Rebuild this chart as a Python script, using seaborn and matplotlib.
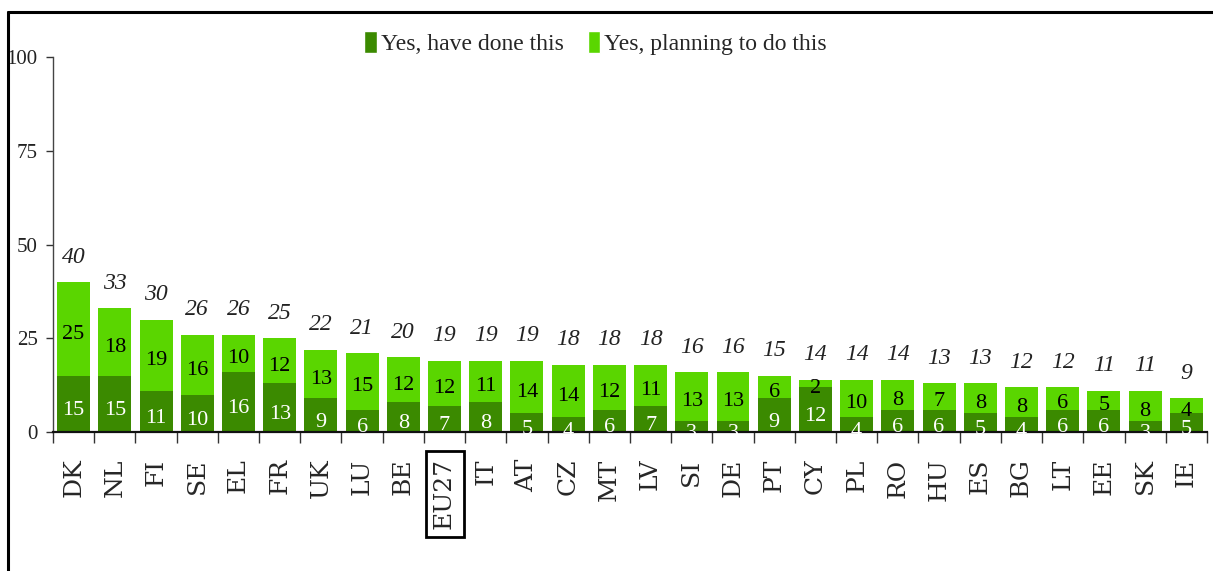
import matplotlib
matplotlib.use("Agg")
import matplotlib.pyplot as plt
import numpy as np
import pandas as pd
import seaborn as sns
from matplotlib.lines import Line2D
from matplotlib.patches import Patch
from matplotlib.ticker import FixedLocator

# ── Data ──────────────────────────────────────────────────────────────────
countries = ["DK", "NL", "FI", "SE", "EL", "FR", "UK", "LU", "BE", "EU27",
             "IT", "AT", "CZ", "MT", "LV", "SI", "DE", "PT", "CY", "PL",
             "RO", "HU", "ES", "BG", "LT", "EE", "SK", "IE"]
have_done = [15, 15, 11, 10, 16, 13, 9, 6, 8, 7,
             8, 5, 4, 6, 7, 3, 3, 9, 12, 4,
             6, 6, 5, 4, 6, 6, 3, 5]
planning = [25, 18, 19, 16, 10, 12, 13, 15, 12, 12,
            11, 14, 14, 12, 11, 13, 13, 6, 2, 10,
            8, 7, 8, 8, 6, 5, 8, 4]
totals = [40, 33, 30, 26, 26, 25, 22, 21, 20, 19,
          19, 19, 18, 18, 18, 16, 16, 15, 14, 14,
          14, 13, 13, 12, 12, 11, 11, 9]
y_ticks = [0, 25, 50, 75, 100]
series_labels = ["Yes, have done this", "Yes, planning to do this"]

DARK = "#3b8a00"
LIGHT = "#5ad600"
SERIF = "Liberation Serif"

df = pd.DataFrame({"country": countries, "done": have_done,
                   "planning": planning, "total": totals})
df["stack"] = df["done"] + df["planning"]

# ── Style ─────────────────────────────────────────────────────────────────
sns.set_style("ticks")
plt.rcParams["font.family"] = [SERIF, "DejaVu Serif"]

fig = plt.figure(figsize=(12.13, 5.71), dpi=100)
ax = fig.add_axes([0.0437, 0.2434, 0.9513, 0.6566])

# stacked bars: full height in light green, done part overlaid in dark green
sns.barplot(data=df, x="country", y="stack", color=LIGHT, saturation=1,
            width=0.8, ax=ax, order=countries, linewidth=0)
sns.barplot(data=df, x="country", y="done", color=DARK, saturation=1,
            width=0.8, ax=ax, order=countries, linewidth=0)

# segment labels sit a little below the segment centre (small ones get clipped)
for i, row in df.iterrows():
    ax.annotate(str(row["done"]), (i, row["done"] / 2), xytext=(0, -5),
                textcoords="offset points", ha="center", va="center",
                color="white", fontsize=16, annotation_clip=False).set_clip_on(True)
    ax.annotate(str(row["planning"]), (i, row["done"] + row["planning"] / 2),
                xytext=(0, -4), textcoords="offset points", ha="center",
                va="center", color="black", fontsize=16)
    ax.annotate(str(row["total"]), (i, row["stack"]), xytext=(0, 18),
                textcoords="offset points", ha="center", va="center",
                fontsize=17, style="italic", color="#222222")

ax.set_xlim(-0.5, len(countries) - 0.5)
ax.set_ylim(0, 100)
ax.set_yticks(y_ticks)
ax.set_xlabel("")
ax.set_ylabel("")

ax.tick_params(axis="x", which="major", length=0, pad=19, labelsize=18,
               labelrotation=90)
for lab in ax.get_xticklabels():
    lab.set_family("DejaVu Serif")
ax.xaxis.set_minor_locator(FixedLocator(np.arange(-0.5, len(countries), 1)))
ax.tick_params(axis="x", which="minor", length=8, width=1, color="#333333")
ax.tick_params(axis="y", length=5, width=1, pad=6, labelsize=15,
               color="#333333", labelcolor="#222222")

sns.despine(ax=ax, top=True, right=True)
ax.spines["left"].set_linewidth(1)
ax.spines["left"].set_color("#444444")
ax.spines["bottom"].set_linewidth(1.6)
ax.spines["bottom"].set_color("#111111")

for lab in ax.get_xticklabels():
    if lab.get_text() == "EU27":
        lab.set_bbox(dict(facecolor="none", edgecolor="black",
                          linewidth=2, boxstyle="square,pad=0.3"))

handles = [Patch(facecolor=DARK), Patch(facecolor=LIGHT)]
fig.legend(handles, series_labels, loc="center", bbox_to_anchor=(0.491, 0.925),
           ncol=2, frameon=False, handlelength=0.55, handleheight=1.1,
           handletextpad=0.15, columnspacing=1.0,
           prop={"family": SERIF, "size": 17})

# outer frame lines (top and left) as in the reference
fig.add_artist(Line2D([0.0066, 1.0], [0.979, 0.979], color="black",
                      linewidth=2.2, transform=fig.transFigure))
fig.add_artist(Line2D([0.0066, 0.0066], [0.0, 0.979], color="black",
                      linewidth=2.2, transform=fig.transFigure))

fig.savefig("out.png", dpi=100)
